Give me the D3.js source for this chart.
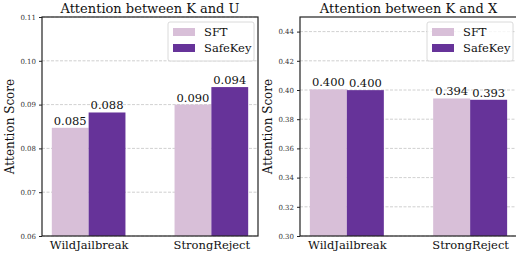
<!DOCTYPE html>
<html>
<head>
<meta charset="utf-8">
<script src="https://cdn.jsdelivr.net/npm/d3@7"></script>
<style>
  body { margin: 0; background: #fff; }
</style>
</head>
<body>
<svg id="chart" width="516" height="255" font-family="DejaVu Serif"></svg>
<script>
// Data
var categories = ['WildJailbreak', 'StrongReject']
var series_names = ['SFT', 'SafeKey']
var series_colors = ['#d8bfd8', '#663399']

var ku_sft = [0.0847, 0.0900]
var ku_safekey = [0.0882, 0.0940]
var ku_ticks = [0.06, 0.07, 0.08, 0.09, 0.10, 0.11]

var kx_sft = [0.4004, 0.3942]
var kx_safekey = [0.3999, 0.3933]
var kx_ticks = [0.30, 0.32, 0.34, 0.36, 0.38, 0.40, 0.42, 0.44]

var svg = d3.select('#chart')

// Panel settings
var panels = [
  { title: 'Attention between K and U', left: 42, right: 258, ydomain: [0.06, 0.11],
    ticks: ku_ticks, values: [ku_sft, ku_safekey], ylab_x: 14 },
  { title: 'Attention between K and X', left: 300, right: 517, ydomain: [0.30, 0.45],
    ticks: kx_ticks, values: [kx_sft, kx_safekey], ylab_x: 272 }
]
var plot_top = 17, plot_bottom = 236
var bar_w = 0.3

panels.forEach(function(p) {
  var g = svg.append('g')
  var x = d3.scaleLinear().domain([-0.38, 1.38]).range([p.left, p.right])
  var y = d3.scaleLinear().domain(p.ydomain).range([plot_bottom, plot_top])

  // grid
  g.selectAll('.grid')
    .data(p.ticks)
    .enter().append('line')
    .attr('x1', p.left).attr('x2', p.right)
    .attr('y1', d => y(d)).attr('y2', d => y(d))
    .attr('stroke', '#c4c4c4')
    .attr('stroke-width', 0.8)
    .attr('stroke-dasharray', '3,1.5')

  // bars
  p.values.forEach(function(vals, s) {
    g.selectAll('.bar-' + s)
      .data(vals)
      .enter().append('rect')
      .attr('x', (d, i) => x(i - bar_w + s * bar_w))
      .attr('width', x(bar_w) - x(0))
      .attr('y', d => y(d))
      .attr('height', d => plot_bottom - y(d))
      .attr('fill', series_colors[s])

    g.selectAll('.lab-' + s)
      .data(vals)
      .enter().append('text')
      .attr('x', (d, i) => x(i - bar_w / 2 + s * bar_w))
      .attr('y', d => y(d) - 3)
      .attr('text-anchor', 'middle')
      .attr('font-size', 11.5)
      .attr('fill', '#111')
      .text(d => d3.format('.3f')(d))
  })

  // y axis ticks
  var yaxis = d3.axisLeft(y).tickValues(p.ticks).tickFormat(d3.format('.2f')).tickSize(3).tickPadding(3)
  var ya = g.append('g').attr('transform', 'translate(' + p.left + ',0)').call(yaxis)
    .attr('font-family', 'DejaVu Serif')
  ya.select('.domain').remove()
  ya.selectAll('text').attr('font-size', 7).attr('fill', '#333')
  ya.selectAll('line').attr('stroke', '#222')

  // x category labels
  var xa = d3.axisBottom(x).tickValues([0, 1]).tickFormat((d, i) => categories[i]).tickSize(0).tickPadding(5)
  var xg = g.append('g').attr('transform', 'translate(0,' + plot_bottom + ')').call(xa)
    .attr('font-family', 'DejaVu Serif')
  xg.select('.domain').remove()
  xg.selectAll('text').attr('font-size', 11.5).attr('fill', '#111')

  // frame
  g.append('rect')
    .attr('x', p.left).attr('y', plot_top)
    .attr('width', p.right - p.left).attr('height', plot_bottom - plot_top)
    .attr('fill', 'none').attr('stroke', '#222').attr('stroke-width', 1.2)

  // title
  g.append('text')
    .attr('x', (p.left + p.right) / 2)
    .attr('y', 13)
    .attr('text-anchor', 'middle')
    .attr('font-size', 13)
    .attr('fill', '#111')
    .text(p.title)

  // y label
  g.append('text')
    .attr('transform', 'translate(' + p.ylab_x + ',' + (plot_top + plot_bottom) / 2 + ') rotate(-90)')
    .attr('text-anchor', 'middle')
    .attr('font-size', 12)
    .attr('fill', '#111')
    .text('Attention Score')

  // legend
  var lx = p.right - 90, ly = 22
  var leg = g.append('g').attr('transform', 'translate(' + lx + ',' + ly + ')')
  leg.append('rect')
    .attr('width', 86).attr('height', 39)
    .attr('rx', 2)
    .attr('fill', '#fff').attr('fill-opacity', 0.8)
    .attr('stroke', '#d0d0d0').attr('stroke-width', 0.8)
  series_names.forEach(function(name, s) {
    leg.append('rect')
      .attr('x', 5).attr('y', 6 + s * 16)
      .attr('width', 22).attr('height', 8)
      .attr('fill', series_colors[s])
    leg.append('text')
      .attr('x', 36).attr('y', 14 + s * 16)
      .attr('font-size', 11.5)
      .attr('fill', '#111')
      .text(name)
  })
})
</script>
</body>
</html>
